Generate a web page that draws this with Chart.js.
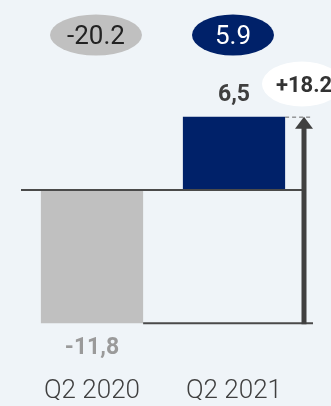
<!DOCTYPE html>
<html>
<head>
<meta charset="utf-8">
<script src="https://cdn.jsdelivr.net/npm/chart.js@4"></script>
<style>
  html, body { margin: 0; padding: 0; background: #eff4f8; }
  #wrap { width: 331px; height: 406px; }
</style>
</head>
<body>
<div id="wrap"><canvas id="chart"></canvas></div>
<script>
const quarters = ['Q2 2020', 'Q2 2021'];
const values = [-11.8, 6.5];
const valueLabels = ['-11,8', '6,5'];
const changeLabels = ['-20.2', '5.9'];
const deltaLabel = '+18.2';

const barColors = ['#c0c0c0', '#002169'];
const labelColors = ['#9a9a9a', '#3f3f3f'];
const pillColors = ['#c0c0c0', '#002169'];
const pillText = ['#222222', '#ffffff'];
const FONT = 'Roboto, "DejaVu Sans", sans-serif';

function ellipse(ctx, cx, cy, rx, ry, fill) {
    ctx.beginPath();
    ctx.ellipse(cx, cy, rx, ry, 0, 0, Math.PI * 2);
    ctx.fillStyle = fill;
    ctx.fill();
}

// reference lines, change arrow, value labels and header pills
const overlay = {
    id: 'overlay',
    afterDatasetsDraw(chart) {
        const ctx = chart.ctx;
        const y = chart.scales.y;
        const meta = chart.getDatasetMeta(0);
        const low = meta.data[0], high = meta.data[1];
        const y0 = y.getPixelForValue(0);
        const yLow = y.getPixelForValue(values[0]);
        const yHigh = y.getPixelForValue(values[1]);
        const ax = 304;

        ctx.save();
        ctx.strokeStyle = '#4a4a4a';
        ctx.lineWidth = 2;
        ctx.beginPath();
        ctx.moveTo(chart.chartArea.left, y0);
        ctx.lineTo(ax, y0);
        ctx.stroke();

        ctx.beginPath();
        ctx.moveTo(low.x + low.width / 2, yLow);
        ctx.lineTo(313, yLow);
        ctx.stroke();

        ctx.setLineDash([4, 3]);
        ctx.lineWidth = 1;
        ctx.strokeStyle = '#666';
        ctx.beginPath();
        ctx.moveTo(high.x + high.width / 2, yHigh + 0.5);
        ctx.lineTo(313, yHigh + 0.5);
        ctx.stroke();
        ctx.setLineDash([]);

        // arrow from the lower level up to the higher one
        ctx.strokeStyle = '#404040';
        ctx.fillStyle = '#404040';
        ctx.lineWidth = 5;
        ctx.beginPath();
        ctx.moveTo(ax, yLow + 1);
        ctx.lineTo(ax, yHigh + 10);
        ctx.stroke();
        ctx.beginPath();
        ctx.moveTo(ax, yHigh);
        ctx.lineTo(ax - 9, yHigh + 12);
        ctx.lineTo(ax + 9, yHigh + 12);
        ctx.closePath();
        ctx.fill();

        ctx.textAlign = 'center';
        ctx.textBaseline = 'middle';

        // value labels
        meta.data.forEach((bar, i) => {
            ctx.fillStyle = labelColors[i];
            ctx.font = 'bold 23px ' + FONT;
            const ty = values[i] >= 0 ? bar.y - 21 : bar.y + 25;
            ctx.fillText(valueLabels[i], bar.x, ty);
        });

        // header pills
        meta.data.forEach((bar, i) => {
            const cx = bar.x + (i === 0 ? 4 : -1);
            ellipse(ctx, cx, 35, i === 0 ? 46 : 41, 20.5, pillColors[i]);
            ctx.fillStyle = pillText[i];
            ctx.font = '26px ' + FONT;
            ctx.fillText(changeLabels[i], cx, 37);
        });

        ellipse(ctx, 302, 84, 40, 22.5, '#ffffff');
        ctx.fillStyle = '#333333';
        ctx.font = 'bold 22px ' + FONT;
        ctx.textAlign = 'left';
        ctx.fillText(deltaLabel, 276, 86);
        ctx.restore();
    }
};

new Chart(document.getElementById('chart'), {
    type: 'bar',
    data: {
        labels: quarters,
        datasets: [{
            data: values,
            backgroundColor: barColors,
            borderWidth: 0,
            barPercentage: 0.72,
            categoryPercentage: 1
        }]
    },
    options: {
        responsive: true,
        maintainAspectRatio: false,
        animation: false,
        events: [],
        layout: { padding: { left: 21, right: 26, top: 32, bottom: 6 } },
        plugins: { legend: { display: false }, tooltip: { enabled: false } },
        scales: {
            y: { display: false, min: -14, max: 14 },
            x: {
                grid: { display: false, drawTicks: false },
                border: { display: false },
                afterFit(scale) { scale.height = 52; },
                ticks: {
                    color: '#3f3f3f',
                    padding: 28,
                    maxRotation: 0,
                    font: { family: FONT, size: 26, weight: '300' }
                }
            }
        }
    },
    plugins: [overlay]
});
</script>
</body>
</html>
